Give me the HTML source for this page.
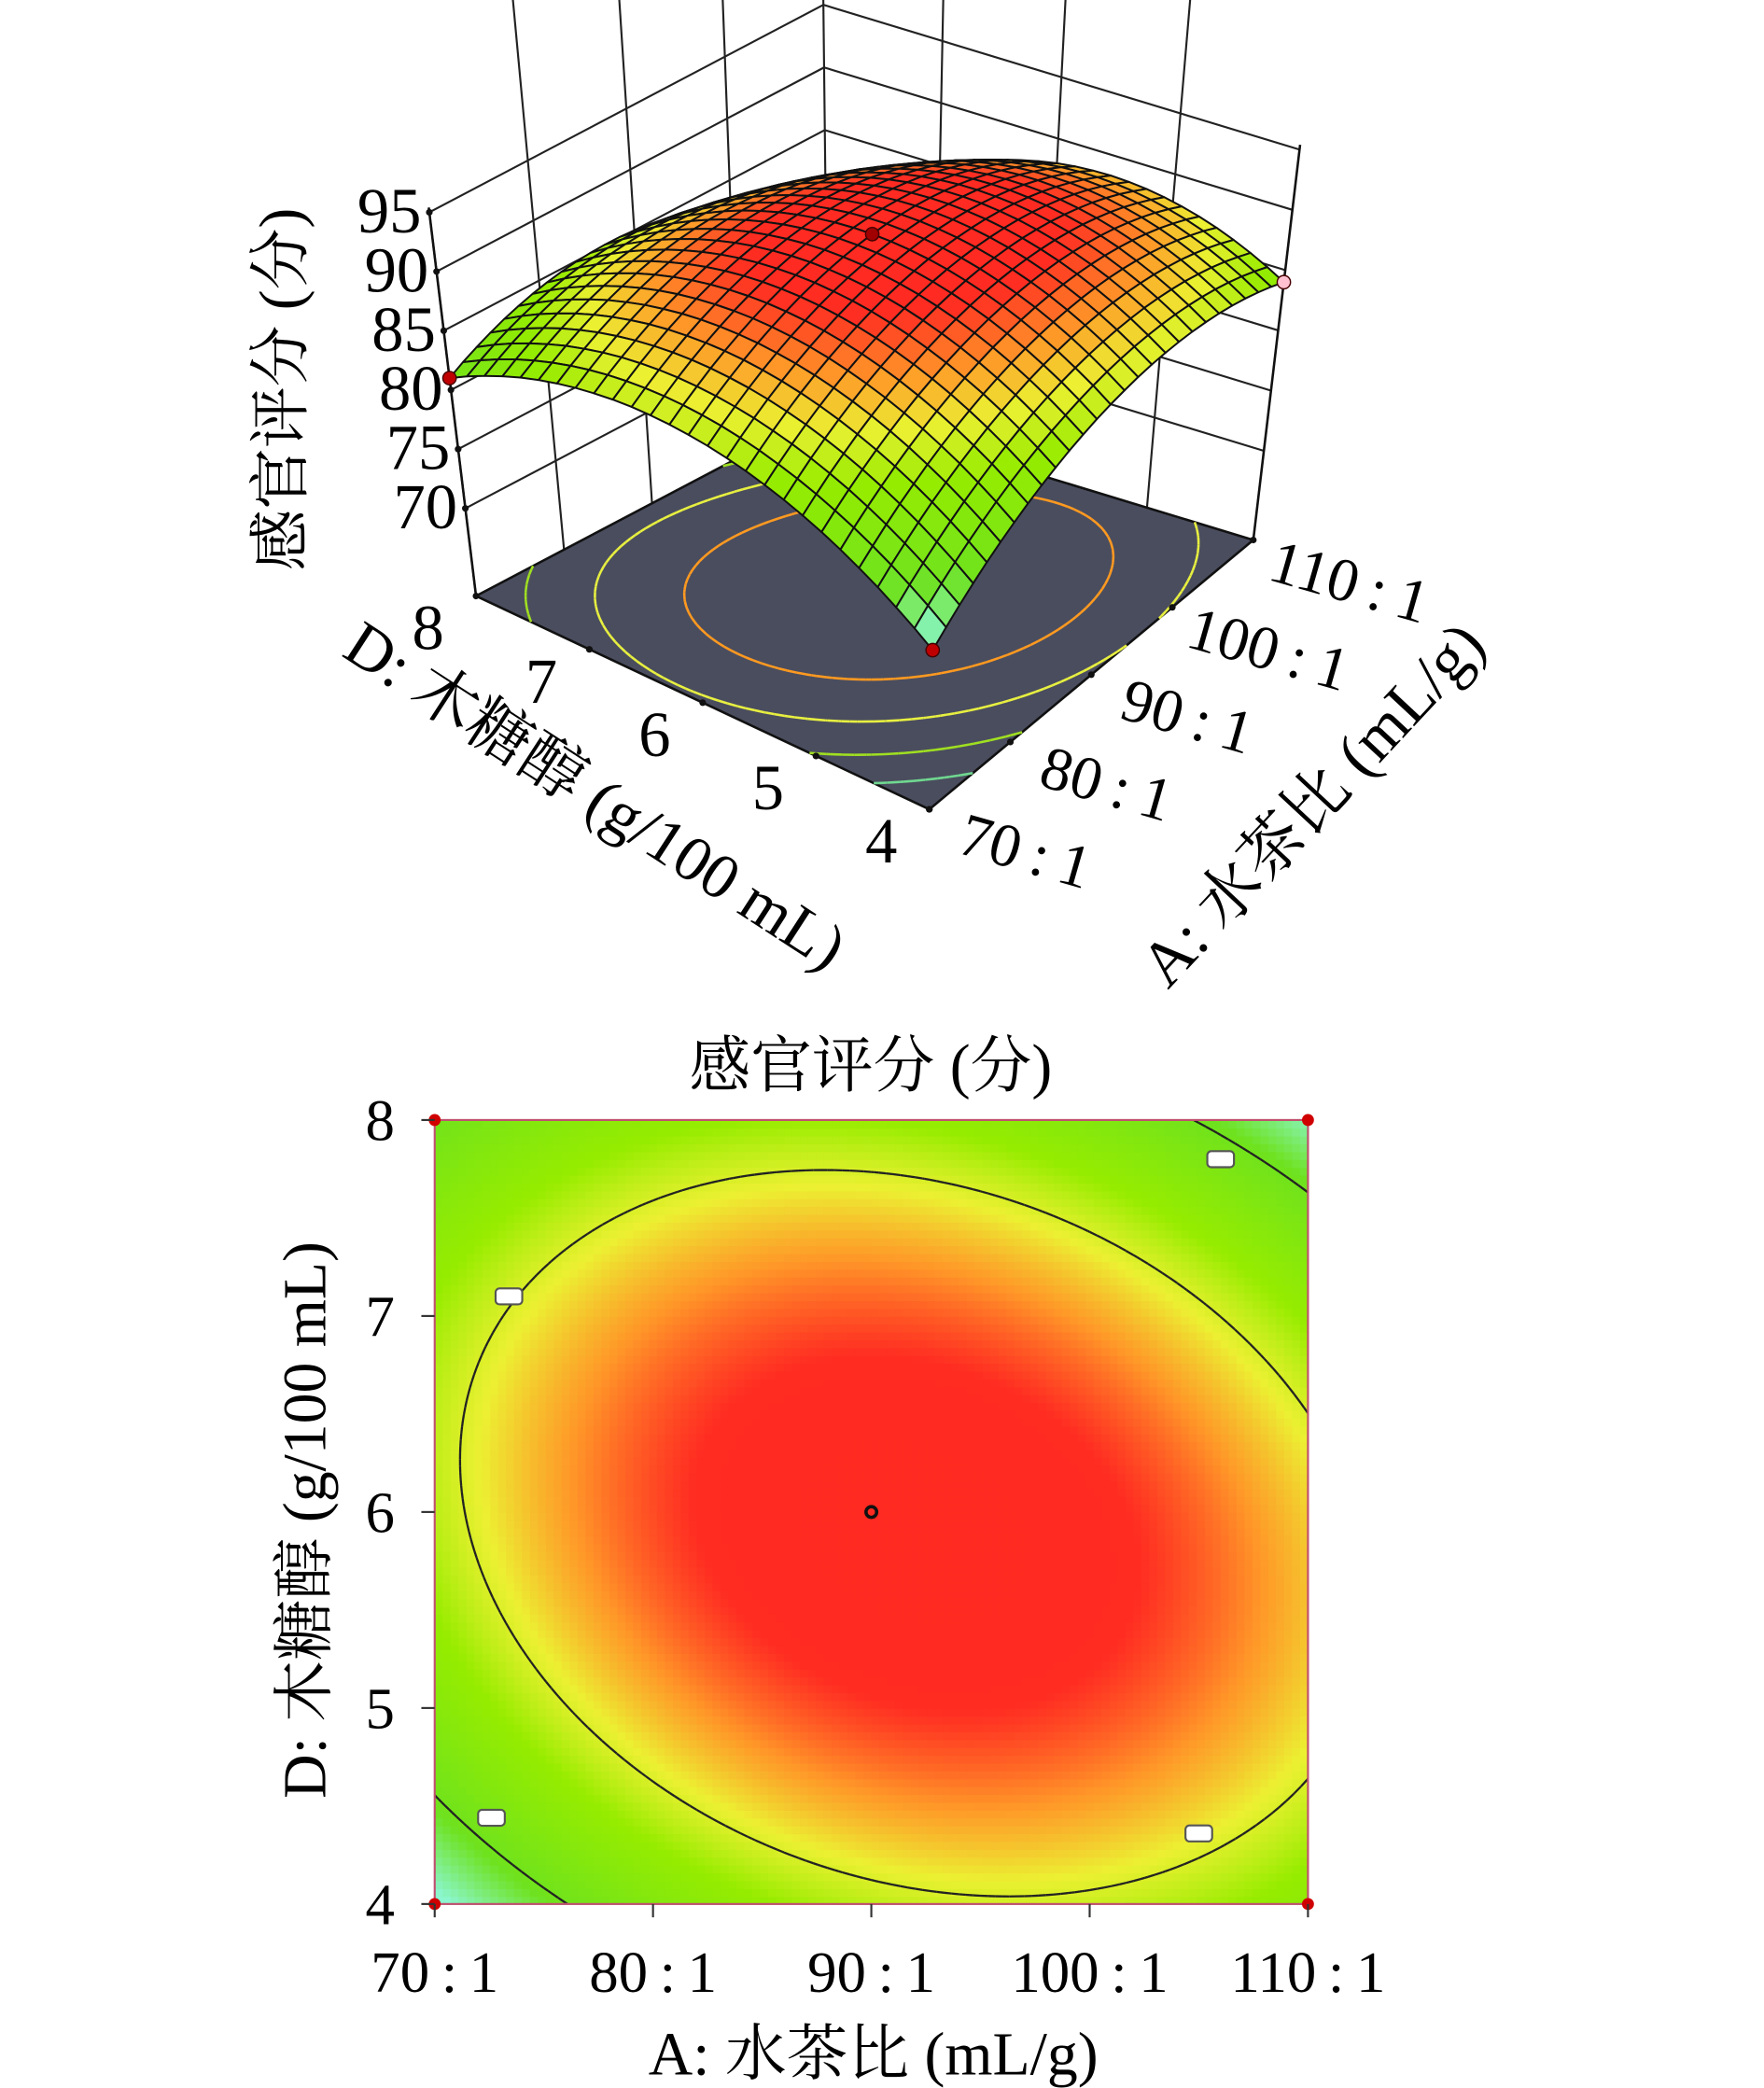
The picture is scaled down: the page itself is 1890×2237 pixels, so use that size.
<!DOCTYPE html>
<html><head><meta charset="utf-8">
<style>
html,body{margin:0;padding:0;background:#fff;}
svg{display:block;}
text{font-family:"Liberation Serif","Noto Serif CJK SC",serif;fill:#000;}
</style></head>
<body>
<svg id="fig" width="1890" height="2237" viewBox="0 0 1323 1566" xmlns="http://www.w3.org/2000/svg">
<g id="plot3d"></g>
<g id="plot2d"></g>
</svg>
<script>
// ---- data ----
// quadratic model in coded units a=(A-90)/20, d=(D-6)/2 : [b0, bA, bD, bAA, bDD, bAD]
const modelCoef = [92.5, 1.0, -0.5, -5.5, -7.0, -2.5];
const aTickLabels = ["70\u2009:\u20091","80\u2009:\u20091","90\u2009:\u20091","100\u2009:\u20091","110\u2009:\u20091"];
const dTickLabels = ["4","5","6","7","8"];
const zTickLabels = ["70","75","80","85","90","95"];
const zTickValues = [70,75,80,85,90,95];
const contourLevels2d = [80.9, 86.8];
const floorLevels = [89.5, 86.5, 83.5, 80.5];
const flagPoints = [[-0.83,0.55],[0.8,0.9],[-0.87,-0.78],[0.75,-0.82]];

const NS="http://www.w3.org/2000/svg";
function mk(tag,attrs,parent){const e=document.createElementNS(NS,tag);for(const k in attrs)e.setAttribute(k,attrs[k]);parent.appendChild(e);return e;}
function f(a,d){const c=modelCoef;return c[0]+c[1]*a+c[2]*d+c[3]*a*a+c[4]*d*d+c[5]*a*d;}
const stops=[[77.5,[140,246,210]],[80.5,[110,226,30]],[85,[150,236,0]],[87.3,[236,240,50]],[89.3,[255,150,40]],[91.2,[255,44,34]],[99,[255,30,30]]];
function col(z){if(z<=stops[0][0])return `rgb(${stops[0][1]})`;for(let i=1;i<stops.length;i++){if(z<=stops[i][0]){const t=(z-stops[i-1][0])/(stops[i][0]-stops[i-1][0]);const p=stops[i-1][1],q=stops[i][1];return `rgb(${p.map((v,j)=>Math.round(v+(q[j]-v)*t)).join(',')})`;}}return 'rgb(255,30,30)';}
// marching squares
function contour(level,N,cb){const g=[];for(let i=0;i<=N;i++){g.push([]);for(let j=0;j<=N;j++)g[i].push(f(-1+2*i/N,-1+2*j/N));}
 for(let i=0;i<N;i++)for(let j=0;j<N;j++){const c=[[i,j],[i+1,j],[i+1,j+1],[i,j+1]];const pts=[];for(let k=0;k<4;k++){const p=c[k],q=c[(k+1)%4];const v1=g[p[0]][p[1]]-level,v2=g[q[0]][q[1]]-level;if((v1<0)!==(v2<0)){const t=v1/(v1-v2);pts.push([-1+2*(p[0]+(q[0]-p[0])*t)/N,-1+2*(p[1]+(q[1]-p[1])*t)/N]);}}
 if(pts.length>=2)cb(pts[0],pts[1]);if(pts.length===4)cb(pts[2],pts[3]);}}

// ---- 3D plot ----
const g3=document.getElementById('plot3d');
const F=[697,607],L=[357,447],R=[940,405],B=[621,308],VP=[650,2854],S=0.00369,Z0=62.6;
function proj(a,d,z){const u=(a+1)/2,v=(d+1)/2;const px=F[0]*(1-u)*(1-v)+R[0]*u*(1-v)+L[0]*(1-u)*v+B[0]*u*v;const py=F[1]*(1-u)*(1-v)+R[1]*u*(1-v)+L[1]*(1-u)*v+B[1]*u*v;const k=1+S*(z-Z0);return [VP[0]+(px-VP[0])*k,VP[1]+(py-VP[1])*k];}
function line(p,q,attrs,parent){return mk('line',Object.assign({x1:p[0],y1:p[1],x2:q[0],y2:q[1]},attrs),parent);}
const ZT=95.4, ZB=110;
// walls
const walls=mk('g',{},g3);
for(let i=0;i<4;i++){const a=-1+i/2;line(proj(a,1,Z0),proj(a,1,i===0?ZT:ZB),{stroke:'#222','stroke-width':1.5},walls);}
line(proj(1,1,Z0),proj(1,1,ZB),{stroke:'#222','stroke-width':1.5},walls);
for(let i=1;i<4;i++){const d=-1+i/2;line(proj(1,d,Z0),proj(1,d,ZB),{stroke:'#222','stroke-width':1.5},walls);}
[70,75,80,85,90,95].forEach(z=>{line(proj(-1,1,z),proj(1,1,z),{stroke:'#222','stroke-width':1.5},walls);line(proj(1,1,z),proj(1,-1,z),{stroke:'#222','stroke-width':1.5},walls);});
// floor
const fp=[proj(-1,-1,Z0),proj(1,-1,Z0),proj(1,1,Z0),proj(-1,1,Z0)];
const floor=mk('polygon',{points:fp.map(p=>p.join(',')).join(' '),fill:'#4a4d5e',stroke:'#111','stroke-width':1.8},g3);

const floorCols=['#ff9a20','#e8f040','#a0e020','#70d890'];
floorLevels.forEach((lv,i)=>{const gg=mk('g',{stroke:floorCols[i],'stroke-width':1.8,fill:'none'},g3);contour(lv,60,(p,q)=>line(proj(p[0],p[1],Z0),proj(q[0],q[1],Z0),{},gg));});
// surface
const surf=mk('g',{stroke:'#111','stroke-width':1.4,'stroke-linejoin':'round'},g3);
const N3=26,quads=[];
for(let i=0;i<N3;i++)for(let j=0;j<N3;j++){const a0=-1+2*i/N3,a1=-1+2*(i+1)/N3,d0=-1+2*j/N3,d1=-1+2*(j+1)/N3;quads.push({a0,a1,d0,d1,k:i+j});}
quads.sort((p,q)=>q.k-p.k);
quads.forEach(qd=>{const pts=[[qd.a0,qd.d0],[qd.a1,qd.d0],[qd.a1,qd.d1],[qd.a0,qd.d1]].map(p=>proj(p[0],p[1],f(p[0],p[1])));const zc=f((qd.a0+qd.a1)/2,(qd.d0+qd.d1)/2);
 mk('polygon',{points:pts.map(p=>p[0].toFixed(1)+','+p[1].toFixed(1)).join(' '),fill:col(zc)},surf);});
// front vertical edges
line(proj(-1,1,Z0),proj(-1,1,ZT),{stroke:'#111','stroke-width':1.8},g3);
line(proj(1,-1,Z0),proj(1,-1,ZT),{stroke:'#111','stroke-width':1.8},g3);
// z ticks
zTickValues.forEach((z,i)=>{const p=proj(-1,1,z);mk('circle',{cx:p[0],cy:p[1],r:2.5,fill:'#111'},g3);
 const t=mk('text',{x:p[0]-6,y:p[1]+15,'font-size':48,'text-anchor':'end'},g3);t.textContent=zTickLabels[i];});
// D ticks along left-front edge (a=-1)
dTickLabels.forEach((s,i)=>{const d=-1+i/2;const p=proj(-1,d,Z0);mk('circle',{cx:p[0],cy:p[1],r:2.5,fill:'#111'},g3);
 const t=mk('text',{x:p[0]-36,y:p[1]+40,'font-size':48,'text-anchor':'middle'},g3);t.textContent=s;});
// A ticks along right-front edge (d=-1)
aTickLabels.forEach((s,i)=>{const a=-1+i/2;const p=proj(a,-1,Z0);mk('circle',{cx:p[0],cy:p[1],r:2.5,fill:'#111'},g3);
 const x=p[0]+68,y=p[1]+46;const t=mk('text',{x:x,y:y,'font-size':46,'text-anchor':'middle',transform:`rotate(16 ${x} ${y})`},g3);t.textContent=s;});
// points
[[[-1,1],'#c00000'],[[1,-1],'#ffc0d0'],[[0,0],'#a00000'],[[-1,-1],'#c00000']].forEach(([p,c])=>{const q=proj(p[0],p[1],f(p[0],p[1]));const el=mk('circle',{cx:q[0],cy:q[1],r:5,fill:c,stroke:'#400','stroke-width':1},g3);});
// titles
let t=mk('text',{x:226,y:292,'font-size':46,'text-anchor':'middle',transform:'rotate(-90 226 292)'},g3);t.textContent='感官评分 (分)';
t=mk('text',{x:438,y:610,'font-size':48,'text-anchor':'middle',transform:'rotate(33 438 610)'},g3);t.textContent='D: 木糖醇 (g/100 mL)';
t=mk('text',{x:996,y:614,'font-size':48,'text-anchor':'middle',transform:'rotate(-47 996 614)'},g3);t.textContent='A: 水茶比 (mL/g)';

// ---- 2D contour plot ----
const g2=document.getElementById('plot2d');
const X0=326,X1=981,Y0=840,Y1=1428;
const sx=a=>X0+(a+1)/2*(X1-X0), sy=d=>Y1-(d+1)/2*(Y1-Y0);
const heat=mk('g',{},g2);
const NX=110,NY=100;
for(let i=0;i<NX;i++)for(let j=0;j<NY;j++){const a=-1+2*(i+0.5)/NX,d=-1+2*(j+0.5)/NY;const x=sx(-1+2*i/NX),y=sy(-1+2*(j+1)/NY);
 mk('rect',{x:x.toFixed(2),y:y.toFixed(2),width:((X1-X0)/NX+0.6).toFixed(2),height:((Y1-Y0)/NY+0.6).toFixed(2),fill:col(f(a,d))},heat);}
contourLevels2d.forEach(lv=>{const gg=mk('g',{stroke:'#222','stroke-width':1.6,fill:'none'},g2);contour(lv,120,(p,q)=>line([sx(p[0]),sy(p[1])],[sx(q[0]),sy(q[1])],{},gg));});
mk('rect',{x:X0,y:Y0,width:X1-X0,height:Y1-Y0,fill:'none',stroke:'#c05070','stroke-width':1.5},g2);
flagPoints.forEach(p=>{const el=mk('rect',{x:sx(p[0])-10,y:sy(p[1])-6,width:20,height:12,rx:3,fill:'#fff',stroke:'#555','stroke-width':1.5},g2);});
[[-1,-1],[-1,1],[1,-1],[1,1]].forEach(p=>{const el=mk('circle',{cx:sx(p[0]),cy:sy(p[1]),r:4.5,fill:'#d00000'},g2);});
let cp=mk('circle',{cx:sx(0),cy:sy(0),r:4,fill:'none',stroke:'#111','stroke-width':2.5},g2);
aTickLabels.forEach((s,i)=>{const x=sx(-1+i/2);line([x,Y1],[x,Y1+10],{stroke:'#333','stroke-width':1.5},g2);
 const tt=mk('text',{x:x,y:1494,'font-size':44,'text-anchor':'middle'},g2);tt.textContent=s;});
dTickLabels.forEach((s,i)=>{const y=sy(-1+i/2);line([X0-10,y],[X0,y],{stroke:'#333','stroke-width':1.5},g2);
 const tt=mk('text',{x:296,y:y+15,'font-size':44,'text-anchor':'end'},g2);tt.textContent=s;});
t=mk('text',{x:653,y:815,'font-size':46,'text-anchor':'middle'},g2);t.textContent='感官评分 (分)';
t=mk('text',{x:655,y:1556,'font-size':46,'text-anchor':'middle'},g2);t.textContent='A: 水茶比 (mL/g)';
t=mk('text',{x:244,y:1140,'font-size':46,'text-anchor':'middle',transform:'rotate(-90 244 1140)'},g2);t.textContent='D: 木糖醇 (g/100 mL)';
</script>
</body></html>
